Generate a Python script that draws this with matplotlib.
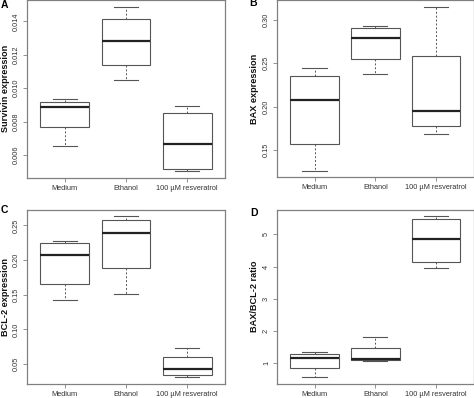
import matplotlib
matplotlib.use('Agg')
import matplotlib.pyplot as plt

groups = ['Medium', 'Ethanol', '100 µM resveratrol']

# five-number summaries per group: lower whisker, Q1, median, Q3, upper whisker
survivin_whislo = [0.00652, 0.0105, 0.00503]
survivin_q1 = [0.0077, 0.01137, 0.00515]
survivin_med = [0.00889, 0.01281, 0.00667]
survivin_q3 = [0.0092, 0.01412, 0.00849]
survivin_whishi = [0.00938, 0.01489, 0.00894]

bax_whislo = [0.126, 0.2382, 0.1686]
bax_q1 = [0.157, 0.2552, 0.1782]
bax_med = [0.208, 0.2796, 0.1952]
bax_q3 = [0.2355, 0.2904, 0.2582]
bax_whishi = [0.2451, 0.293, 0.3155]

bcl2_whislo = [0.1429, 0.1514, 0.031]
bcl2_q1 = [0.1657, 0.1881, 0.0349]
bcl2_med = [0.2067, 0.2391, 0.0434]
bcl2_q3 = [0.2249, 0.2577, 0.060]
bcl2_whishi = [0.2271, 0.2634, 0.0729]

ratio_whislo = [0.55, 1.06, 3.94]
ratio_q1 = [0.83, 1.08, 4.14]
ratio_med = [1.135, 1.11, 4.87]
ratio_q3 = [1.26, 1.46, 5.48]
ratio_whishi = [1.33, 1.79, 5.57]

panels = [
    ('A', 'Survivin expression', survivin_whislo, survivin_q1, survivin_med, survivin_q3, survivin_whishi,
     [0.006, 0.008, 0.010, 0.012, 0.014], ['0.006', '0.008', '0.010', '0.012', '0.014']),
    ('B', 'BAX expression', bax_whislo, bax_q1, bax_med, bax_q3, bax_whishi,
     [0.15, 0.20, 0.25, 0.30], ['0.15', '0.20', '0.25', '0.30']),
    ('C', 'BCL-2 expression', bcl2_whislo, bcl2_q1, bcl2_med, bcl2_q3, bcl2_whishi,
     [0.05, 0.10, 0.15, 0.20, 0.25], ['0.05', '0.10', '0.15', '0.20', '0.25']),
    ('D', 'BAX/BCL-2 ratio', ratio_whislo, ratio_q1, ratio_med, ratio_q3, ratio_whishi,
     [1, 2, 3, 4, 5], ['1', '2', '3', '4', '5']),
]

plt.rcParams['font.family'] = ['Liberation Sans', 'DejaVu Sans']

W, H = 474, 398
fig = plt.figure(figsize=(W / 100, H / 100), dpi=100)

rects = [
    (27, 0, 225, 177.7),
    (277, 0, 473.5, 177.3),
    (27, 209.7, 225, 383.7),
    (277, 209.7, 473.5, 383.7),
]
letter_pos = [(1, 8.5), (249, 6.5), (1, 213), (250, 216)]
label_x = [6, 254.5, 6, 254.5]

boxcol = '#555555'
framecol = '#808080'

for i, (letter, ylab, wl, q1, med, q3, wh, yt, ytl) in enumerate(panels):
    x0, y0, x1, y1 = rects[i]
    ax = fig.add_axes([x0 / W, 1 - y1 / H, (x1 - x0) / W, (y1 - y0) / H])
    stats = []
    for k in range(len(groups)):
        stats.append(dict(whislo=wl[k], q1=q1[k], med=med[k], q3=q3[k], whishi=wh[k], fliers=[], label=groups[k]))
    ax.bxp(stats, positions=[1, 2, 3], widths=0.8, patch_artist=True, showfliers=False,
           boxprops=dict(facecolor='white', edgecolor=boxcol, linewidth=0.8),
           medianprops=dict(color='#222222', linewidth=1.6, solid_capstyle='butt'),
           whiskerprops=dict(color=boxcol, linewidth=0.7, linestyle=(0, (2, 2))),
           capprops=dict(color=boxcol, linewidth=0.8), capwidths=0.4)
    lo = min(wl)
    hi = max(wh)
    r = hi - lo
    ax.set_ylim(lo - 0.04 * r, hi + 0.04 * r)
    ax.set_xlim(0.38, 3.62)
    ax.set_yticks(yt)
    ax.set_yticklabels(ytl)
    ax.set_xticks([1, 2, 3])
    ax.set_xticklabels(groups)
    ax.tick_params(axis='both', colors=framecol, labelcolor='#333333', labelsize=5.3,
                   length=3, width=0.6)
    ax.tick_params(axis='y', labelrotation=90, pad=2)
    ax.tick_params(axis='x', pad=2)
    for lab in ax.get_yticklabels():
        lab.set_va('center')
    for s in ax.spines.values():
        s.set_color(framecol)
        s.set_linewidth(0.9)
    ax.set_ylabel(ylab, fontsize=6.6, fontweight='bold', color='#111111')
    ax.yaxis.label.set_verticalalignment('center')
    ax.yaxis.set_label_coords((label_x[i] - x0) / (x1 - x0), 0.5)
    lx, ly = letter_pos[i]
    fig.text(lx / W, 1 - ly / H, letter, fontsize=7.5, fontweight='bold', va='baseline', ha='left')

fig.savefig('out.png', dpi=100)
